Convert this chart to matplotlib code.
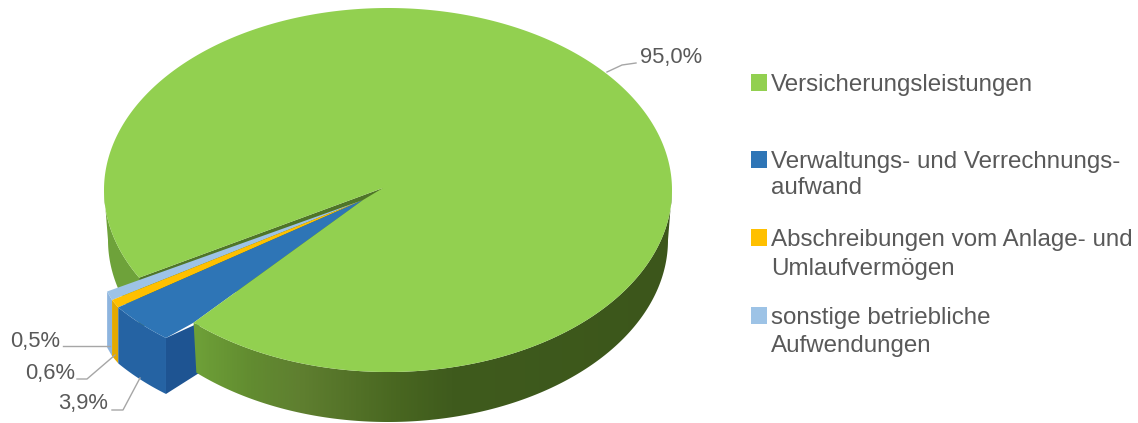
# -*- coding: utf-8 -*-
import numpy as np
import matplotlib
matplotlib.use("Agg")
import matplotlib.pyplot as plt
from matplotlib.colors import LinearSegmentedColormap
from matplotlib.patches import Rectangle, Polygon

plt.rcParams['font.family'] = ['Liberation Sans', 'DejaVu Sans']

# Anteile in Prozent
kategorien = ["Versicherungsleistungen",
              "Verwaltungs- und Verrechnungs-\naufwand",
              "Abschreibungen vom Anlage- und\nUmlaufvermögen",
              "sonstige betriebliche\nAufwendungen"]
werte = [95.0, 3.9, 0.6, 0.5]

farben_oben = ["#92D050", "#2E75B6", "#FFC000", "#9DC3E6"]
farben_seite = ["#6EA23A", "#2563A3", "#E3A900", "#8DB4DE"]
farbe_schnitt = "#1E5492"
farbe_text = "#595959"
farbe_linie = "#A6A6A6"

# Ellipse der Torte in Pixeln, die untere ist perspektivisch etwas schmaler
cx, cy = 388, 190
rx, ry = 284, 182
rx_unten = 280
tiefe = 50
tiefe_vorn = 56
start = 151.2
spitze_gruen = np.array([383, 188])
spitze_stuecke = np.array([363, 200])

# Verschiebung der herausgezogenen Stuecke je Winkelgrenze
versatz_winkel = [133.2, 147.2, 149.4, 151.2]
versatz_x = [-27.6, -30.9, -31.5, -32.0]
versatz_y = [15.3, 18.9, 17.4, 13.8]


def punkte(t1, t2, n=200, breite=rx):
    t = np.radians(np.linspace(t1, t2, n))
    return np.column_stack([cx + breite * np.cos(t), cy + ry * np.sin(t)])


def wand_gruen(t1, t2):
    oben = punkte(t1, t2)
    unten = punkte(t1, t2, breite=rx_unten)[::-1] + [0, tiefe]
    return np.vstack([oben, unten])


def bogen_versetzt(t1, t2, n=40):
    t = np.linspace(t1, t2, n)
    b = punkte(t1, t2, n)
    b[:, 0] += np.interp(t, versatz_winkel, versatz_x)
    b[:, 1] += np.interp(t, versatz_winkel, versatz_y)
    return b


fig = plt.figure(figsize=(11.38, 4.23), dpi=100)
ax = fig.add_axes([0, 0, 1, 1])

# Winkelbereiche aus den Werten
winkel = np.array(werte) * 3.6
grenzen = start + np.concatenate([[0], np.cumsum(winkel)])
gruen_ende = grenzen[1]

# Seitenwand links vom Ausschnitt
ax.add_patch(Polygon(wand_gruen(start, 180), closed=True, fc=farben_seite[0], ec="none", zorder=1))

# Schnittflaeche im Ausschnitt
kante = punkte(start, start, n=1)[0]
ax.add_patch(Polygon([spitze_gruen, kante, kante + [0, tiefe], spitze_gruen + [0, tiefe]],
                     closed=True, fc="#4F7528", ec="none", zorder=1.5))

# herausgezogene Stuecke
zo = {3: 2, 2: 3, 1: 4}
innen = punkte(gruen_ende, gruen_ende, n=1)[0]
for i in [3, 2, 1]:
    bogen = bogen_versetzt(grenzen[i] - 360, grenzen[i + 1] - 360)
    oben = np.vstack([spitze_stuecke, bogen])
    if i == 1:
        # die blaue Schnittkante laeuft bis unter die gruene Wand
        ax.add_patch(Polygon([bogen[0], innen + [6, 0], innen + [6, tiefe], bogen[0] + [0, tiefe_vorn]],
                             closed=True, fc=farbe_schnitt, ec="none", zorder=zo[i]))
        oben = np.vstack([spitze_stuecke, innen, bogen])
    seite = np.vstack([bogen, bogen[::-1] + [0, tiefe_vorn]])
    ax.add_patch(Polygon(seite, closed=True, fc=farben_seite[i], ec="none", zorder=zo[i]))
    ax.add_patch(Polygon(oben, closed=True, fc=farben_oben[i], ec="none", zorder=zo[i]))

# Seitenwand vorne mit Farbverlauf
rechts = Polygon(wand_gruen(0, gruen_ende - 360), closed=True, fc="none", ec="none",
                 transform=ax.transData)
ax.add_patch(rechts)
verlauf = LinearSegmentedColormap.from_list("wand", [
    (0.0, "#6EA23A"), (0.16, "#6EA038"), (0.255, "#628C30"), (0.343, "#5F7F30"),
    (0.52, "#486620"), (0.61, "#3F5B1D"), (1.0, "#3C561B")])
bild = ax.imshow(np.linspace(0, 1, 600).reshape(1, -1), cmap=verlauf, aspect="auto",
                 extent=(105, 673, 423, 0), zorder=5)
bild.set_clip_path(rechts)

# Deckflaeche
deckel = np.vstack([spitze_gruen, punkte(start, gruen_ende, n=500), spitze_stuecke])
ax.add_patch(Polygon(deckel, closed=True, fc=farben_oben[0], ec="none", zorder=6))

# Beschriftung der Anteile
beschriftung = [f"{v:.1f}%".replace(".", ",") for v in werte]
label_pos = [(640, 58), (58, 403), (25, 373), (10, 341)]
fuehrung = [[(607, 72), (622, 65), (636, 63)],
            [(112, 410), (123, 410), (140, 378)],
            [(77, 379), (87, 379), (115, 355)],
            [(63, 346.5), (110, 346.5)]]
for text, pos, linie in zip(beschriftung, label_pos, fuehrung):
    ax.text(pos[0], pos[1], text, color=farbe_text, fontsize=15.8, ha="left",
            va="center", zorder=8)
    xs, ys = zip(*linie)
    ax.plot(xs, ys, color=farbe_linie, lw=1, zorder=7)

# Legende
legende_y = [83, 160, 238, 316]
abstand = [0, 26, 29, 28]
for kat, farbe, y, d in zip(kategorien, farben_oben, legende_y, abstand):
    ax.add_patch(Rectangle((751, y - 8.5), 16, 17, fc=farbe, ec="none", zorder=8))
    for j, zeile in enumerate(kat.split("\n")):
        ax.text(771, y + 2 + j * d, zeile, color=farbe_text, fontsize=17.4,
                ha="left", va="center", zorder=8)

ax.set_xlim(0, 1138)
ax.set_ylim(423, 0)
ax.axis("off")

plt.savefig("out.png", dpi=100, facecolor="white")
